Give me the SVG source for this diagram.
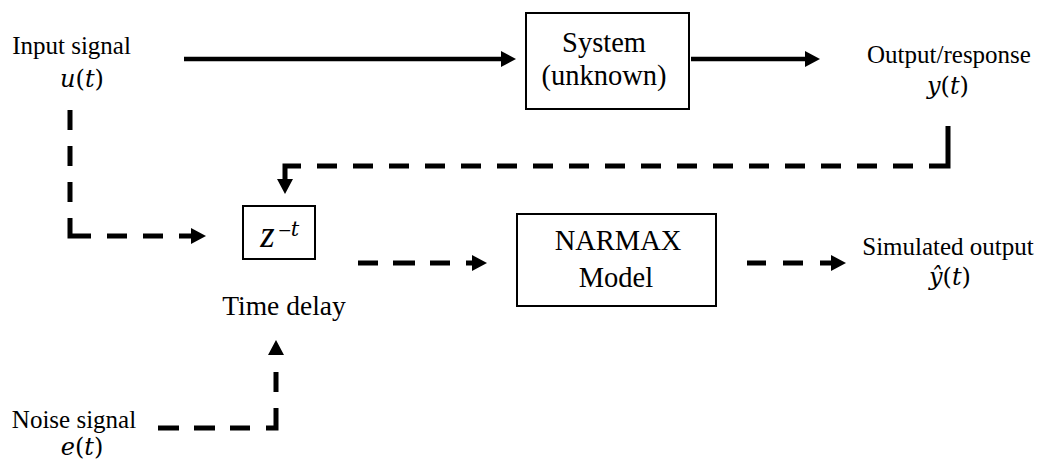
<svg xmlns="http://www.w3.org/2000/svg" width="1041" height="461" viewBox="0 0 1041 461">
<style>
text{fill:#000;text-anchor:middle}
.serif{font-family:"Liberation Serif","Times New Roman",serif}
.lbl{font-size:25px}
.big{font-size:28.5px}
.math{font-family:"DejaVu Serif","Liberation Serif",serif;font-size:24px}
.it{font-style:italic}
.box{fill:#fff;stroke:#000;stroke-width:2}
.solid{fill:none;stroke:#000;stroke-width:4.5}
.dash{fill:none;stroke:#000;stroke-width:5}
</style>
<defs>
<marker id="ah" markerUnits="userSpaceOnUse" viewBox="0 0 15 16" refX="1" refY="8" markerWidth="15" markerHeight="16" orient="auto">
<path d="M0,0 L15,8 L0,16 z" fill="#000"/>
</marker>
</defs>
<g id="connectors">
<path class="solid" d="M184,59 H502" marker-end="url(#ah)"/>
<path class="solid" d="M691,59 H806" marker-end="url(#ah)"/>
<path class="dash" d="M948,126 V166 H285 V180" stroke-dasharray="59 16 20 16 20 16 20 16 20 16 20 16 20 16 20 16 20 16 20 16 20 16 20 16 20 16 20 16 20 16 20 16 20 16 20 16 60 0" marker-end="url(#ah)"/>
<path class="dash" d="M70,110 V236 H192" stroke-dasharray="20 16 20 16 20 16 39 16 20 16 20 16 30 0" marker-end="url(#ah)"/>
<path class="dash" d="M158,428 H276 V354" stroke-dasharray="21 15 21 15 20 16 30 16 20 17 30 0" marker-end="url(#ah)"/>
<path class="dash" d="M358,263 H473" stroke-dasharray="20 15 22 15 20 16 20 0" marker-end="url(#ah)"/>
<path class="dash" d="M747,263 H832" stroke-dasharray="19 17 20 17 20 0" marker-end="url(#ah)"/>
</g>
<g id="input">
<text class="serif lbl" x="71.5" y="54">Input signal</text>
<text class="math" x="82" y="87"><tspan class="it">u</tspan>(<tspan class="it">t</tspan>)</text>
</g>
<g id="system">
<rect class="box" x="526" y="13" width="163" height="96"/>
<text class="serif big" x="604" y="52">System</text>
<text class="serif big" x="604" y="85">(unknown)</text>
</g>
<g id="output">
<text class="serif lbl" x="949" y="63">Output/response</text>
<text class="math" x="948" y="94"><tspan class="it">y</tspan>(<tspan class="it">t</tspan>)</text>
</g>
<g id="delay">
<rect class="box" x="243" y="206" width="72" height="53"/>
<text class="serif it" x="267.5" y="247" style="font-size:37px">z</text>
<text class="math" x="284.5" y="236" style="font-size:17px">−</text>
<text class="math it" x="295" y="236" style="font-size:21px">t</text>
<text class="serif" x="284" y="315" style="font-size:27.5px">Time delay</text>
</g>
<g id="narmax">
<rect class="box" x="517" y="214" width="199" height="92"/>
<text class="serif big" x="618" y="250">NARMAX</text>
<text class="serif big" x="616" y="287">Model</text>
</g>
<g id="simulated">
<text class="serif lbl" x="948" y="255">Simulated output</text>
<text class="math" x="950" y="285"><tspan class="it">ŷ</tspan>(<tspan class="it">t</tspan>)</text>
</g>
<g id="noise">
<text class="serif lbl" x="74" y="428">Noise signal</text>
<text class="math" x="82" y="455"><tspan class="it">e</tspan>(<tspan class="it">t</tspan>)</text>
</g>
</svg>
